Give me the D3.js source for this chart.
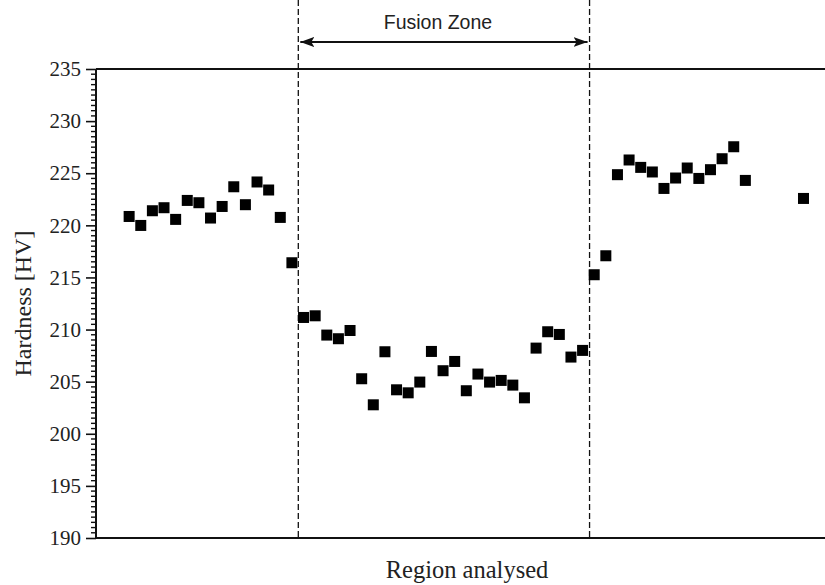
<!DOCTYPE html>
<html>
<head>
<meta charset="utf-8">
<script src="https://cdn.jsdelivr.net/npm/d3@7"></script>
<style>
  html, body { margin: 0; padding: 0; background: #fff; }
  svg { display: block; }
</style>
</head>
<body>
<svg id="chart" width="825" height="585"></svg>
<script>
// Measurement positions along the analysed line (sample index)
const positions = [
  0, 1, 2, 3, 4, 5, 6, 7, 8, 9, 10, 11, 12, 13, 14,
  15, 16, 17, 18, 19, 20, 21, 22, 23, 24, 25, 26, 27, 28, 29, 30, 31, 32, 33, 34, 35, 36,
  37, 38, 39,
  40, 41, 42, 43, 44, 45, 46, 47, 48, 49, 50, 51, 52, 53,
  58
];
// Vickers hardness at each position
const hardness = [
  220.85, 219.99, 221.4, 221.69, 220.57, 222.39, 222.17, 220.7, 221.81, 223.7, 221.98, 224.16, 223.39, 220.76, 216.41,
  211.16, 211.32, 209.47, 209.12, 209.91, 205.28, 202.78, 207.87, 204.22, 203.93, 204.96, 207.9, 206.05, 206.94, 204.13, 205.73, 204.96, 205.12, 204.67, 203.45, 208.22, 209.79,
  209.53, 207.36, 208.0,
  215.26, 217.08, 224.86, 226.27, 225.56, 225.12, 223.54, 224.54, 225.5, 224.5, 225.34, 226.39, 227.54, 224.31,
  222.58
];
// Y axis tick labels
const yTicks = [190, 195, 200, 205, 210, 215, 220, 225, 230, 235];
// Fusion zone boundaries (in sample-index units)
const fusionZone = [14.55, 39.6];
const fusionLabel = "Fusion Zone";
const xTitle = "Region analysed";
const yTitle = "Hardness [HV]";

const svg = d3.select("#chart");
const mLeft = 96, mRight = 825, mTop = 69, mBottom = 538;
const serif = "'Liberation Serif', 'Times New Roman', serif";

const x = d3.scaleLinear().domain([-2.85, 59.85]).range([mLeft, mRight]);
const y = d3.scaleLinear().domain([190, 235]).range([mBottom, mTop]);

// Minor ticks every 0.5 HV
const minorTicks = d3.range(190, 235.001, 0.5).filter(v => Math.abs(v % 5) > 1e-6);

const axisY = svg.append("g").attr("transform", `translate(${mLeft},0)`);
axisY.selectAll("line.minor").data(minorTicks).join("line")
  .attr("class", "minor")
  .attr("x1", -5).attr("x2", 0)
  .attr("y1", d => y(d)).attr("y2", d => y(d))
  .attr("stroke", "#111").attr("stroke-width", 1.4);
axisY.call(d3.axisLeft(y).tickValues(yTicks).tickSize(10).tickPadding(5).tickFormat(d3.format("d")));
axisY.select(".domain").remove();
axisY.selectAll(".tick line").attr("stroke", "#111").attr("stroke-width", 1.6);
axisY.selectAll(".tick text")
  .attr("fill", "#222")
  .style("font-family", serif)
  .style("font-size", "21px");

// Frame: left spine, bottom axis, top line
svg.append("line").attr("x1", mLeft).attr("x2", mLeft).attr("y1", mTop).attr("y2", mBottom)
  .attr("stroke", "#111").attr("stroke-width", 2);
svg.append("line").attr("x1", mLeft).attr("x2", mRight).attr("y1", mBottom).attr("y2", mBottom)
  .attr("stroke", "#111").attr("stroke-width", 2);
svg.append("line").attr("x1", mLeft).attr("x2", mRight).attr("y1", mTop).attr("y2", mTop)
  .attr("stroke", "#111").attr("stroke-width", 2);

// Fusion zone boundaries
svg.selectAll("line.fz").data(fusionZone).join("line")
  .attr("class", "fz")
  .attr("x1", d => x(d)).attr("x2", d => x(d))
  .attr("y1", 0).attr("y2", mBottom)
  .attr("stroke", "#111").attr("stroke-width", 1.3)
  .attr("stroke-dasharray", "6,3");

// Double-headed arrow spanning the fusion zone
const defs = svg.append("defs");
["start", "end"].forEach(k => {
  defs.append("marker")
    .attr("id", "arrow-" + k)
    .attr("viewBox", "0 0 14 10")
    .attr("refX", k === "end" ? 14 : 0).attr("refY", 5)
    .attr("markerWidth", 14).attr("markerHeight", 10)
    .attr("markerUnits", "userSpaceOnUse")
    .attr("orient", "0")
    .append("path")
    .attr("d", k === "end" ? "M0,0 L14,5 L0,10 L3,5 Z" : "M14,0 L0,5 L14,10 L11,5 Z")
    .attr("fill", "#111");
});
const arrowY = 42;
svg.append("line")
  .attr("x1", x(fusionZone[0]) + 2).attr("x2", x(fusionZone[1]) - 2)
  .attr("y1", arrowY).attr("y2", arrowY)
  .attr("stroke", "#111").attr("stroke-width", 2)
  .attr("marker-start", "url(#arrow-start)")
  .attr("marker-end", "url(#arrow-end)");
svg.append("text")
  .attr("x", (x(fusionZone[0]) + x(fusionZone[1])) / 2 - 6)
  .attr("y", 29)
  .attr("text-anchor", "middle")
  .style("font-family", "'Liberation Sans', Arial, sans-serif")
  .style("font-size", "19.5px")
  .attr("fill", "#222")
  .text(fusionLabel);

// Data markers
const pts = positions.map((p, i) => ({ p, v: hardness[i] }));
const ms = 11;
svg.append("g").selectAll("rect").data(pts).join("rect")
  .attr("x", d => x(d.p) - ms / 2)
  .attr("y", d => y(d.v) - ms / 2)
  .attr("width", ms).attr("height", ms)
  .attr("fill", "#000");

// Axis titles
svg.append("text")
  .attr("x", 467).attr("y", 578)
  .attr("text-anchor", "middle")
  .style("font-family", serif)
  .style("font-size", "24.5px")
  .attr("fill", "#222")
  .text(xTitle);
svg.append("text")
  .attr("transform", `translate(31,${(mTop + mBottom) / 2}) rotate(-90)`)
  .attr("text-anchor", "middle")
  .style("font-family", serif)
  .style("font-size", "24px")
  .attr("fill", "#222")
  .text(yTitle);
</script>
</body>
</html>
